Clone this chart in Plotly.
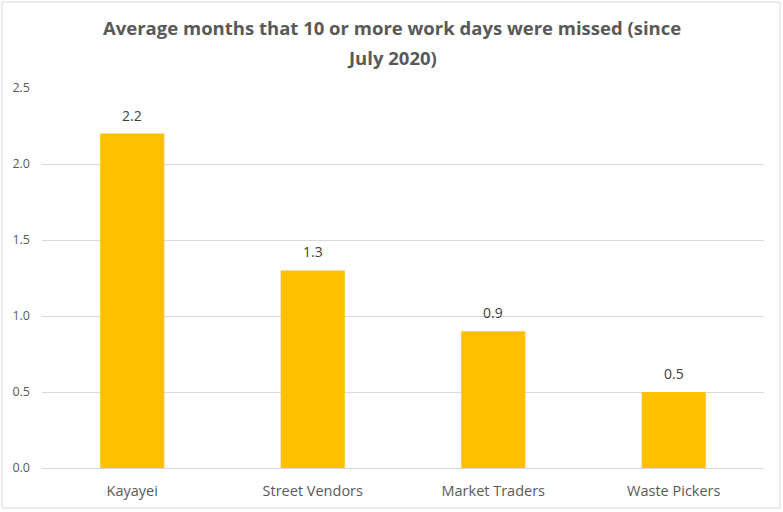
import plotly.graph_objects as go

categories = ["Kayayei", "Street Vendors", "Market Traders", "Waste Pickers"]
values = [2.2, 1.3, 0.9, 0.5]
labels = ["2.2", "1.3", "0.9", "0.5"]
tick_vals = [0, 0.5, 1.0, 1.5, 2.0, 2.5]
tick_text = ["0.0", "0.5", "1.0", "1.5", "2.0", "2.5"]
title_lines = ["Average months that 10 or more work days were missed (since", "July 2020)"]

W, H = 783, 512
L, R, T, B = 42, 19, 88, 44
pw, ph = W - L - R, H - T - B

fig = go.Figure(go.Bar(
    x=categories, y=values, marker=dict(color="#FFC000", line=dict(width=0)),
    hoverinfo="skip",
))

annotations = []
for c, v, t in zip(categories, values, labels):
    annotations.append(dict(
        x=c, y=v, text=t, showarrow=False, xref="x", yref="y",
        yanchor="bottom", yshift=7,
        font=dict(family="Open Sans", size=14, color="#404040"),
    ))
for i, line in enumerate(title_lines):
    annotations.append(dict(
        x=(391.5 - L) / pw, xref="paper", y=(T + ph - [28, 57][i]) / ph, yref="paper",
        xanchor="center", yanchor="middle", showarrow=False,
        text="<b>" + line + "</b>",
        font=dict(family="Open Sans", size=18.5, color="#595959"),
    ))

fig.update_layout(
    width=W, height=H,
    margin=dict(l=L, r=R, t=T, b=B),
    paper_bgcolor="white", plot_bgcolor="white",
    bargap=0.645,
    showlegend=False,
    annotations=annotations,
    xaxis=dict(
        showgrid=False, showline=True, linecolor="#D9D9D9", linewidth=1,
        ticks="", tickfont=dict(family="Open Sans", size=14.5, color="#595959"),
        range=[-0.5, 3.5], ticklabelstandoff=10,
    ),
    yaxis=dict(
        range=[0, 2.5], tickvals=tick_vals, ticktext=tick_text,
        showgrid=True, gridcolor="#D9D9D9", gridwidth=1,
        zeroline=False, showline=False, ticks="",
        tickfont=dict(family="Open Sans", size=12.5, color="#595959"),
        ticklabelstandoff=11,
    ),
    shapes=[dict(
        type="rect", xref="paper", yref="paper",
        x0=(2 - L) / pw, x1=(780 - L) / pw,
        y0=(T + ph - 508) / ph, y1=(T + ph - 2) / ph,
        line=dict(color="#D9D9D9", width=1), fillcolor="rgba(0,0,0,0)", layer="below",
    )],
)

fig.write_html("out.html", config={"displayModeBar": False},
               post_script="document.body.style.margin='0';document.body.style.overflow='hidden';")
